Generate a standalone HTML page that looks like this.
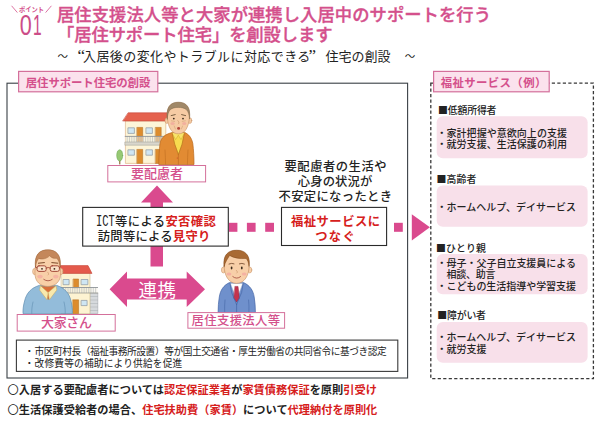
<!DOCTYPE html>
<html lang="ja">
<head>
<meta charset="utf-8">
<title>ポイント01 居住サポート住宅の創設</title>
<style>
html,body{margin:0;padding:0;background:#fff;}
body{width:600px;height:421px;overflow:hidden;position:relative;font-family:"Liberation Sans","Noto Sans CJK JP",sans-serif;}
svg{position:absolute;left:0;top:0;display:block;}
text{font-family:"Liberation Sans","Noto Sans CJK JP",sans-serif;}
.pk{fill:#d4508c;}
.dk{fill:#222;}
.rd{fill:#d6201c;}
.b{font-weight:700;}
.m{font-weight:500;}
.q{font-family:"Liberation Serif",serif;font-size:17px;}
.sq{font-family:"Noto Sans CJK JP",sans-serif;}
</style>
</head>
<body>
<svg width="600" height="421" viewBox="0 0 600 421">
<!-- ===== header ===== -->
<g id="header">
<path d="M11.6,5.8 L17.4,12.6 M51.4,5.8 L45.6,12.6" stroke="#d4508c" stroke-width="0.8" fill="none"/>
<text x="19" y="12.4" class="pk b" font-size="7" textLength="25" lengthAdjust="spacingAndGlyphs">ポイント</text>
<text y="35.4" fill="#cc4d88" font-size="28.6"><tspan x="19.8" textLength="12" lengthAdjust="spacingAndGlyphs">0</tspan><tspan x="33" textLength="8.6" lengthAdjust="spacingAndGlyphs">1</tspan></text>
<text x="57" y="21.4" class="pk m" stroke="#d4508c" stroke-width="0.35" font-size="17.3" textLength="434">居住支援法人等と大家が連携し入居中のサポートを行う</text>
<text x="57" y="41.2" class="pk m" stroke="#d4508c" stroke-width="0.35" font-size="17.3" textLength="275.5">「居住サポート住宅」を創設します</text>
<text y="61" class="dk" font-size="13"><tspan x="57.5" font-size="10.5" dy="-0.8">～</tspan><tspan x="77.5" dy="0.8" class="q">“</tspan><tspan x="83" textLength="227.3">入居後の変化やトラブルに対応できる</tspan><tspan x="308.5" class="q">”</tspan><tspan x="325.5" textLength="65">住宅の創設</tspan><tspan x="404.8" font-size="10.5" dy="-0.8">～</tspan></text>
</g>

<!-- ===== main box ===== -->
<g id="mainbox">
<rect x="7" y="83.2" width="400.6" height="294.8" fill="#fff" stroke="#3a4046" stroke-width="1.1"/>
<rect x="18.6" y="71.4" width="139.2" height="20.4" fill="#fbe2ed" stroke="#d4709b" stroke-width="1.2"/>
<text x="25.8" y="86.6" class="pk b" font-size="11.4" textLength="124.5">居住サポート住宅の創設</text>
</g>

<!-- ===== arrows ===== -->
<g id="arrows" fill="#da4a8e">
<polygon points="157,185.5 173,202.5 163,202.5 163,266.5 150.5,266.5 150.5,202.5 141,202.5"/>
<polygon points="109.6,289.2 127,271.4 127,278.5 186.7,278.5 186.7,271.4 205,289.2 186.7,307 186.7,299.6 127,299.6 127,307"/>
<rect x="229" y="222.8" width="8.4" height="9"/>
<rect x="246.9" y="222.8" width="8.7" height="9"/>
<rect x="265.2" y="222.8" width="8.8" height="9"/>
<rect x="394" y="222.8" width="8.8" height="9"/>
<polygon points="411.8,214.3 429.9,227.3 411.8,240.4"/>
</g>
<text x="138.6" y="296.7" fill="#fff" font-size="18.5" textLength="37.5">連携</text>

<!-- ===== ICT box ===== -->
<g id="ict">
<rect x="82.7" y="207.4" width="145.6" height="38.7" fill="#fff" stroke="#2a2a2a" stroke-width="1.1"/>
<text x="96" y="226.1" font-size="16.6" style="font-family:'Liberation Mono',monospace" class="dk" textLength="18.8" lengthAdjust="spacingAndGlyphs">ICT</text>
<text x="115" y="225.6" font-size="12.3" class="m" textLength="100.8"><tspan class="dk">等による</tspan><tspan class="rd b">安否確認</tspan></text>
<text x="97.8" y="240.6" font-size="12.3" class="m" textLength="112.5"><tspan class="dk">訪問等による</tspan><tspan class="rd b">見守り</tspan></text>
</g>

<!-- ===== center text ===== -->
<g id="center">
<text x="284.5" y="170.8" class="dk m" font-size="12.3" textLength="102">要配慮者の生活や</text>
<text x="297.8" y="186" class="dk m" font-size="12.3" textLength="74.5">心身の状況が</text>
<text x="278.5" y="200.8" class="dk m" font-size="12.3" textLength="113.5">不安定になったとき</text>
<rect x="281.5" y="207.4" width="105.1" height="38.1" fill="#fff" stroke="#2a2a2a" stroke-width="1.1"/>
<text x="291" y="225.6" class="rd b" font-size="12.3" textLength="89">福祉サービスに</text>
<text x="315.2" y="240.7" class="rd b" font-size="12.3" textLength="39.5">つなぐ</text>
</g>


<!-- ===== illustrations ===== -->
<g id="illus-elder" stroke-linejoin="round" stroke-linecap="round">
  <!-- tree -->
  <rect x="119.1" y="158" width="1.3" height="6.4" fill="#9a7a4a"/>
  <ellipse cx="119.7" cy="155.4" rx="3" ry="5.7" fill="#97c974" stroke="#62a04a" stroke-width="0.5"/>
  <!-- house -->
  <rect x="125.8" y="120.8" width="40" height="42.6" fill="#fdf5d8" stroke="#d9a872" stroke-width="0.6"/>
  <polygon points="128.4,112.8 171,112.8 169,121 123,121" fill="#e5624e" stroke="#c4483a" stroke-width="0.6"/>
  <g fill="#cfe6f3" stroke="#8a97a3" stroke-width="0.7">
    <rect x="128.3" y="127.8" width="6.1" height="5.6"/><rect x="146.3" y="127.8" width="6.1" height="5.6"/>
    <rect x="128.3" y="149.8" width="6.1" height="5.4"/><rect x="146.3" y="149.8" width="6.1" height="5.4"/>
  </g>
  <g fill="#dc8c2d" stroke="#b06a1c" stroke-width="0.5">
    <rect x="137.1" y="127.4" width="5.6" height="14"/><rect x="155.6" y="127.4" width="5.6" height="14"/>
    <rect x="137.1" y="149.4" width="5.6" height="14"/><rect x="155.6" y="149.4" width="5.6" height="14"/>
  </g>
  <rect x="125.2" y="136.4" width="40.6" height="5.6" fill="#f3efe2" fill-opacity="0.55" stroke="none"/>
  <path d="M127.2,136.6 V142 M129.5,136.6 V142 M131.8,136.6 V142 M134.1,136.6 V142 M136.4,136.6 V142 M138.7,136.6 V142 M141.0,136.6 V142 M143.3,136.6 V142 M145.6,136.6 V142 M147.9,136.6 V142 M150.2,136.6 V142 M152.5,136.6 V142 M154.8,136.6 V142 M157.1,136.6 V142 M159.4,136.6 V142 M161.7,136.6 V142 M164.0,136.6 V142" stroke="#aeb3b8" stroke-width="0.55" fill="none"/>
  <path d="M125.2,136.4 H166" stroke="#8e9499" stroke-width="0.9" fill="none"/>
  <rect x="125.2" y="142" width="40.8" height="3.2" fill="#d9d6cc" stroke="#9a9a92" stroke-width="0.5"/>
  <!-- person body -->
  <path d="M172,132.6 C165,134.2 161.2,137.5 160,143.5 C159.2,150 158.8,157 158.8,164.5 L194,164.5 C194,157 193.6,150 192.8,143.5 C191.6,137.5 188.5,134.2 185,132.6 Z" fill="#e28b33" stroke="#b9681c" stroke-width="0.7"/>
  <path d="M172.4,133 L184.2,133 L182.2,144 L178.4,154.2 L174.6,144 Z" fill="#f7dc4f" stroke="#c9a92c" stroke-width="0.5"/>
  <path d="M172,133 L175.6,139.6 L178.3,135.2 L181,139.6 L184.6,133" fill="#f9e36a" stroke="#c9a92c" stroke-width="0.5"/>
  <path d="M172.2,133.4 L174.8,144.5 L178.4,154.6 L182,144.5 L184.4,133.4" fill="none" stroke="#b9681c" stroke-width="0.6"/>
  <line x1="178.4" y1="154.6" x2="178.4" y2="164.3" stroke="#b9681c" stroke-width="0.6"/>
  <circle cx="177.3" cy="158" r="0.55" fill="#c6402c"/>
  <path d="M165,150 C165.3,155 165.5,160 165.6,164.3 M188,150 C187.7,155 187.5,160 187.4,164.3" stroke="#b9681c" stroke-width="0.5" fill="none"/>
  <!-- head -->
  <ellipse cx="166.9" cy="120.6" rx="1.9" ry="2.9" fill="#f6cba4" stroke="#c48f63" stroke-width="0.5"/>
  <ellipse cx="189.9" cy="120.6" rx="1.9" ry="2.9" fill="#f6cba4" stroke="#c48f63" stroke-width="0.5"/>
  <path d="M167.3,115 C167,106 171,102.6 178.3,102.6 C185.6,102.6 189.8,106 189.5,115 C189.5,122 187.6,127.5 185.2,130.6 C183.2,133 181.2,133.8 178.3,133.8 C175.5,133.8 173.5,133 171.5,130.6 C169,127.5 167.3,122 167.3,115 Z" fill="#f6cba4" stroke="#c48f63" stroke-width="0.6"/>
  <path d="M167.2,119 C166,107 170.4,102.2 178.3,102.2 C186.3,102.2 190.7,107 189.6,119 C189.2,114.5 188.4,111.8 186.6,109.8 C184.4,107.9 181.5,107.4 178.3,107.4 C175.2,107.4 172.2,107.9 170.1,109.8 C168.4,111.8 167.6,114.5 167.2,119 Z" fill="#a08868" stroke="#7d6648" stroke-width="0.5"/>
  <ellipse cx="172.6" cy="123.6" rx="2.1" ry="1.5" fill="#f0a79c" fill-opacity="0.75"/>
  <ellipse cx="184.2" cy="123.6" rx="2.1" ry="1.5" fill="#f0a79c" fill-opacity="0.75"/>
  <path d="M171.2,115.6 L175.2,114.6 M181.6,114.6 L185.6,115.6" stroke="#6b5237" stroke-width="0.9" fill="none"/>
  <circle cx="173.8" cy="118.6" r="0.9" fill="#3a2a1c"/><circle cx="183" cy="118.6" r="0.9" fill="#3a2a1c"/>
  <path d="M171.4,120.8 L174.6,121.4 M182.2,121.4 L185.4,120.8 M174.2,126 L175.4,129 M182.6,126 L181.4,129" stroke="#c9986c" stroke-width="0.5" fill="none"/>
  <path d="M177.8,120.6 C178.8,121.8 179.6,123 178.4,123.9" stroke="#c48f63" stroke-width="0.6" fill="none"/>
  <ellipse cx="178.6" cy="128.4" rx="1.5" ry="1.3" fill="#b3463a"/>
</g>

<g id="illus-landlord" stroke-linejoin="round" stroke-linecap="round">
  <!-- house -->
  <rect x="90" y="293" width="7.8" height="20.6" fill="#d6d9dc" stroke="#9a9fa4" stroke-width="0.5"/>
  <path d="M90.2,296.5 H97.6 M90.2,300 H97.6 M90.2,303.5 H97.6 M90.2,307 H97.6 M90.2,310.5 H97.6" stroke="#a9aeb3" stroke-width="0.5"/>
  <rect x="61.5" y="273" width="28.5" height="40.6" fill="#fdf3d2" stroke="#c8b88c" stroke-width="0.6"/>
  <polygon points="60.5,265.6 88,265.6 92,273.4 58,273.4" fill="#e45a4c" stroke="#c4483a" stroke-width="0.6"/>
  <g fill="#cfe6f3" stroke="#8a97a3" stroke-width="0.7">
    <rect x="63.5" y="279.5" width="5.6" height="5.2"/><rect x="81.5" y="279.5" width="6.4" height="5.2"/>
    <rect x="81.5" y="300.4" width="5.6" height="5.2"/>
  </g>
  <g fill="#dc8c2d" stroke="#b06a1c" stroke-width="0.5">
    <rect x="73.4" y="279" width="5.2" height="9"/><rect x="73" y="299.8" width="5.6" height="13.8"/>
  </g>
  <rect x="61.5" y="287.5" width="36" height="5.4" fill="#f3efe2" fill-opacity="0.55"/>
  <path d="M63.4,287.7 V292.6 M65.7,287.7 V292.6 M68.0,287.7 V292.6 M70.3,287.7 V292.6 M72.6,287.7 V292.6 M74.9,287.7 V292.6 M77.2,287.7 V292.6 M79.5,287.7 V292.6 M81.8,287.7 V292.6 M84.1,287.7 V292.6 M86.4,287.7 V292.6 M88.7,287.7 V292.6 M91.0,287.7 V292.6 M93.3,287.7 V292.6 M95.6,287.7 V292.6" stroke="#aeb3b8" stroke-width="0.55" fill="none"/>
  <path d="M61.5,287.5 H97.6" stroke="#8e9499" stroke-width="0.9" fill="none"/>
  <path d="M61.5,293 H97.8" stroke="#9a9a92" stroke-width="0.8" fill="none"/>
  <!-- body -->
  <path d="M39,285.5 C31,288 26.5,293 24.6,301 C23.5,305 22.8,309 23,313.6 L72.4,313.6 C72.6,309 72,305 71,301 C69.2,293 64.5,288 57,285.5 Z" fill="#93bcda" stroke="#5f8db0" stroke-width="0.7"/>
  <path d="M41,286.6 L48.2,299.5 L55.4,286.6 Z" fill="#d9703c" stroke="#a9501f" stroke-width="0.4"/>
  <path d="M40.4,285.8 L39.6,290 L47,299.8 L48.2,293 L49.4,299.8 L56.8,290 L56,285.8 L48.2,292.5 Z" fill="#f8e9ad" stroke="#c9a95c" stroke-width="0.5"/>
  <path d="M33,302 C32,306 31.6,310 31.8,313.5 M64,302 C65,306 65.4,310 65.2,313.5" stroke="#5f8db0" stroke-width="0.6" fill="none"/>
  <!-- head -->
  <ellipse cx="34.8" cy="271.5" rx="2.2" ry="3.2" fill="#f8cfa8" stroke="#c48f63" stroke-width="0.5"/>
  <ellipse cx="60.8" cy="271.5" rx="2.2" ry="3.2" fill="#f8cfa8" stroke="#c48f63" stroke-width="0.5"/>
  <path d="M35.6,266 C35,254.5 40,250.2 47.8,250.2 C55.6,250.2 60.6,254.5 60,266 C60.8,270 61,274.5 60,278 C58.4,283.4 53.6,286.4 47.8,286.4 C42,286.4 37.2,283.4 35.6,278 C34.6,274.5 34.8,270 35.6,266 Z" fill="#f8cfa8" stroke="#c48f63" stroke-width="0.6"/>
  <path d="M35.4,267 C34,254.5 39.6,249.8 47.8,249.8 C56,249.8 61.6,254.5 60.2,267 C59.6,262.6 58.6,260 56.6,258.2 C54,258.8 51.4,257.8 49.6,255.8 C47,258.6 42,259.8 38.8,258.4 C37,260.2 36,262.8 35.4,267 Z" fill="#c4875a" stroke="#9a6238" stroke-width="0.5"/>
  <ellipse cx="40" cy="276.6" rx="2.7" ry="1.9" fill="#f4a9a0" fill-opacity="0.75"/>
  <ellipse cx="55.8" cy="276.6" rx="2.7" ry="1.9" fill="#f4a9a0" fill-opacity="0.75"/>
  <g fill="#fff6ee" fill-opacity="0.45" stroke="#9a3a2a" stroke-width="0.9">
    <rect x="37" y="265.8" width="9.2" height="5.6" rx="2"/><rect x="50.2" y="265.8" width="9.2" height="5.6" rx="2"/>
  </g>
  <path d="M46.2,268 Q48.2,266.8 50.2,268 M37,267.6 L35.4,267 M59.4,267.6 L60.4,267" stroke="#9a3a2a" stroke-width="0.8" fill="none"/>
  <circle cx="42" cy="268.8" r="0.9" fill="#3a2a1c"/><circle cx="54.4" cy="268.8" r="0.9" fill="#3a2a1c"/>
  <path d="M38.4,263.2 L44.4,262.6 M51.8,262.6 L57.8,263.2" stroke="#7b4a2a" stroke-width="1"/>
  <path d="M47.4,272 C48.6,273 49.2,274.2 48,275" stroke="#c48f63" stroke-width="0.6" fill="none"/>
  <path d="M43.8,279.4 Q48,282.4 52.2,279.4" stroke="#a0483a" stroke-width="0.8" fill="none"/>
</g>

<g id="illus-support" stroke-linejoin="round" stroke-linecap="round">
  <path d="M229,282.8 C223.6,285.4 220.4,290 219.3,297 C218.5,302 218.1,307 218.1,312.6 L255.4,312.6 C255.4,307 255,302 254.2,297 C253.1,290 249.6,285.4 244,282.8 Z" fill="#6f90cc" stroke="#4566a6" stroke-width="0.7"/>
  <path d="M230.4,283.4 L236.6,299.5 L242.8,283.4 Z" fill="#ffffff" stroke="#a9b4c8" stroke-width="0.5"/>
  <path d="M235.2,286.4 L238,286.4 L239.4,298 L236.6,302 L233.8,298 Z" fill="#c4334d" stroke="#96203a" stroke-width="0.5"/>
  <path d="M230,283.2 L231.6,292.5 L236.6,304.5 M243.2,283.2 L241.6,292.5 L236.6,304.5 M236.6,304.5 L236.6,312.4" stroke="#4566a6" stroke-width="0.7" fill="none"/>
  <path d="M225,300 C224.6,304 224.5,308 224.7,312.5 M248.6,300 C249,304 249.1,308 248.9,312.5" stroke="#4566a6" stroke-width="0.6" fill="none"/>
  <ellipse cx="223.4" cy="270" rx="2" ry="3" fill="#f8cfa8" stroke="#c48f63" stroke-width="0.5"/>
  <ellipse cx="249.8" cy="270" rx="2" ry="3" fill="#f8cfa8" stroke="#c48f63" stroke-width="0.5"/>
  <path d="M224.2,265.5 C223.6,254.4 229,250.6 236.6,250.6 C244.2,250.6 249.6,254.4 249,265.5 C249.3,275 244.6,283.4 236.6,283.4 C228.6,283.4 223.9,275 224.2,265.5 Z" fill="#f8cfa8" stroke="#c48f63" stroke-width="0.6"/>
  <path d="M224.1,266.5 C222.6,254.8 228.2,250.2 236.6,250.2 C245,250.2 250.6,254.8 249.1,266.5 C248.6,262.2 247.6,259.8 246,258.4 C240.4,259 233.6,258 229.6,255.4 C228,258.4 225.2,261.4 224.1,266.5 Z" fill="#a96a33" stroke="#7e471a" stroke-width="0.5"/>
  <ellipse cx="229" cy="274" rx="2.4" ry="1.6" fill="#f4a9a0" fill-opacity="0.8"/>
  <ellipse cx="244.2" cy="274" rx="2.4" ry="1.6" fill="#f4a9a0" fill-opacity="0.8"/>
  <ellipse cx="231.6" cy="268" rx="0.9" ry="1.4" fill="#3a2a1c"/><ellipse cx="241.8" cy="268" rx="0.9" ry="1.4" fill="#3a2a1c"/>
  <path d="M229,264 Q231.6,262.8 234,263.8 M239.4,263.8 Q241.8,262.8 244.4,264" stroke="#6b4026" stroke-width="0.8" fill="none"/>
  <path d="M236.4,270.4 C237.4,271.4 237.8,272.4 236.8,273.1" stroke="#c48f63" stroke-width="0.6" fill="none"/>
  <path d="M232.8,276.6 Q236.7,279.8 240.6,276.6" stroke="#a0483a" stroke-width="0.8" fill="none"/>
</g>

<!-- ===== labels ===== -->
<g id="labels">
<rect x="107.8" y="165.5" width="97.8" height="16.4" fill="#fff" stroke="#d4709b" stroke-width="1"/>
<text x="131" y="178.3" class="pk m" font-size="13" textLength="52">要配慮者</text>
<rect x="17.2" y="314.5" width="98" height="16.6" fill="#fff" stroke="#d4709b" stroke-width="1"/>
<text x="41" y="327.4" class="pk m" font-size="13" textLength="51">大家さん</text>
<rect x="187.9" y="312.6" width="96.7" height="15.6" fill="#fff" stroke="#d4709b" stroke-width="1"/>
<text x="191.6" y="325" class="pk m" font-size="12.4" textLength="88.5">居住支援法人等</text>
</g>

<!-- ===== note box ===== -->
<g id="note">
<rect x="16.4" y="340.1" width="381.4" height="31.3" fill="#fff" stroke="#3a3a3a" stroke-width="1.1"/>
<text y="354.8" class="dk" font-size="9.7"><tspan x="24.5">・</tspan><tspan x="34.5" textLength="352.3">市区町村長（福祉事務所設置）等が国土交通省・厚生労働省の共同省令に基づき認定</tspan></text>
<text y="367" class="dk" font-size="9.7"><tspan x="24.5">・</tspan><tspan x="34.5" textLength="147.8">改修費等の補助により供給を促進</tspan></text>
</g>

<!-- ===== right panel ===== -->
<g id="right" font-weight="500">
<rect x="430.8" y="83.2" width="162.6" height="295.4" fill="none" stroke="#383838" stroke-width="1.3" stroke-dasharray="3.2 2.3"/>
<rect x="433.6" y="71.4" width="115.6" height="20.4" fill="#fbe2ed" stroke="#d4709b" stroke-width="1.2"/>
<text x="440.8" y="86.6" class="pk b" font-size="11.4" textLength="105.5">福祉サービス（例）</text>

<text x="438" y="113.7" class="dk" font-size="9.9" textLength="58.5"><tspan class="sq">■</tspan>低額所得者</text>
<rect x="436.7" y="116.3" width="150.9" height="42" rx="6" fill="#f8e0ea"/>
<text y="136.8" class="dk" font-size="10"><tspan x="436.7">・</tspan><tspan x="446.5" textLength="120.5">家計把握や意欲向上の支援</tspan></text>
<text y="148.2" class="dk" font-size="10"><tspan x="436.7">・</tspan><tspan x="446.5" textLength="120.5">就労支援、生活保護の利用</tspan></text>

<text x="436.4" y="182.7" class="dk" font-size="9.9" textLength="40"><tspan class="sq">■</tspan>高齢者</text>
<rect x="436.7" y="185.6" width="150.9" height="41.1" rx="6" fill="#f8e0ea"/>
<text y="211.3" class="dk" font-size="10"><tspan x="436.7">・</tspan><tspan x="446.5" textLength="129.5">ホームヘルプ、デイサービス</tspan></text>

<text x="436" y="251.7" class="dk" font-size="9.9" textLength="50"><tspan class="sq">■</tspan>ひとり親</text>
<rect x="436.7" y="254" width="150.9" height="40.3" rx="6" fill="#f8e0ea"/>
<text y="266.8" class="dk" font-size="10"><tspan x="436.7">・</tspan><tspan x="446.5" textLength="129.5">母子・父子自立支援員による</tspan></text>
<text x="446.4" y="278.3" class="dk" font-size="10" textLength="49">相談、助言</text>
<text y="290" class="dk" font-size="10"><tspan x="436.7">・</tspan><tspan x="446.5" textLength="129.5">こどもの生活指導や学習支援</tspan></text>

<text x="437.2" y="319" class="dk" font-size="9.9" textLength="48.8"><tspan class="sq">■</tspan>障がい者</text>
<rect x="436.7" y="322" width="150.9" height="40.8" rx="6" fill="#f8e0ea"/>
<text y="341" class="dk" font-size="10"><tspan x="436.7">・</tspan><tspan x="446.5" textLength="129.5">ホームヘルプ、デイサービス</tspan></text>
<text y="353" class="dk" font-size="10"><tspan x="436.7">・</tspan><tspan x="446.5" textLength="40">就労支援</tspan></text>
</g>

<!-- ===== bottom lines ===== -->
<g id="bottom" font-size="11.2" class="b">
<text x="7.6" y="394.1" textLength="369.3"><tspan class="dk" font-weight="400">〇</tspan><tspan class="dk">入居する要配慮者については</tspan><tspan class="rd">認定保証業者</tspan><tspan class="dk">が</tspan><tspan class="rd">家賃債務保証</tspan><tspan class="dk">を原則</tspan><tspan class="rd">引受け</tspan></text>
<text x="7.6" y="414.1" textLength="369.7"><tspan class="dk" font-weight="400">〇</tspan><tspan class="dk">生活保護受給者の場合、</tspan><tspan class="rd">住宅扶助費（家賃）</tspan><tspan class="dk">について</tspan><tspan class="rd">代理納付を原則化</tspan></text>
</g>
</svg>
</body>
</html>
